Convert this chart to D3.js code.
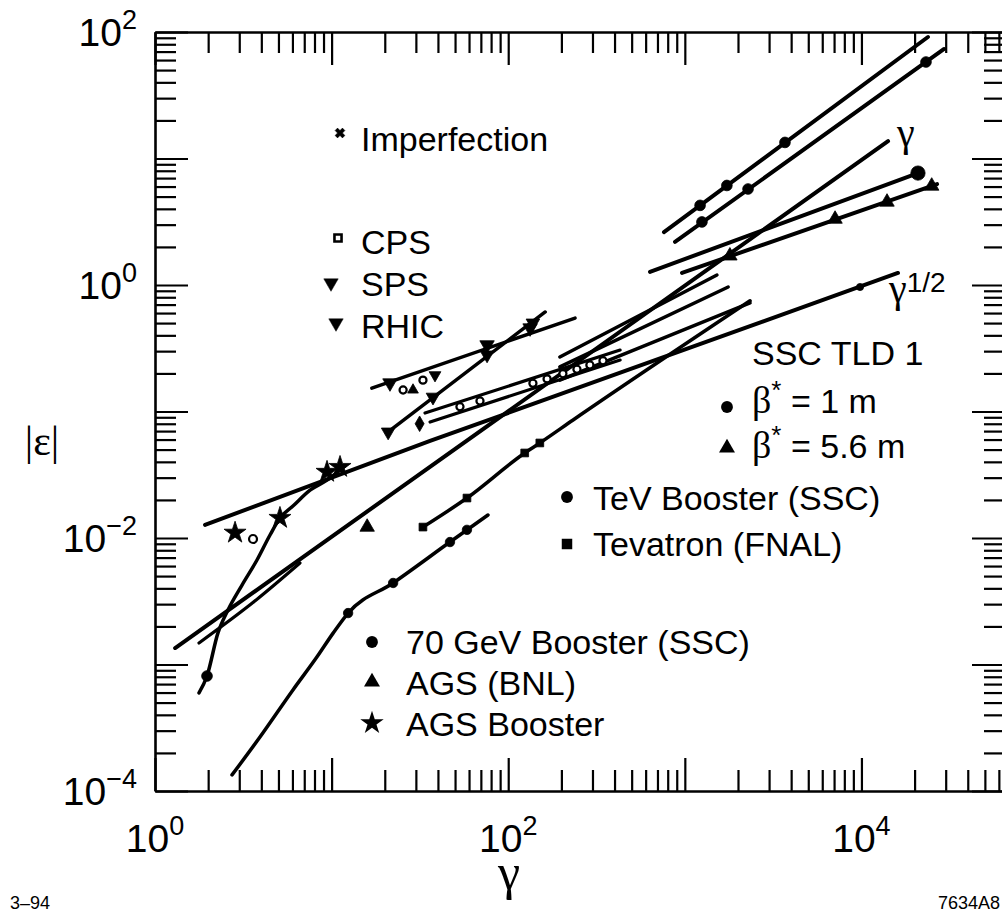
<!DOCTYPE html>
<html>
<head>
<meta charset="utf-8">
<script src="https://cdn.jsdelivr.net/npm/d3@7"></script>
<style>
  body { margin: 0; background: #fff; }
  svg { display: block; }
  text { font-family: "Liberation Sans", Arial, sans-serif; fill: #000; }
  .serif { font-family: "Liberation Serif", "Times New Roman", serif; }
</style>
</head>
<body>
<svg id="chart" width="1002" height="912"></svg>
<script>
// ---- data: [gamma, |epsilon|] ----
const xLabelValues = [1, 100, 10000];
const yLabelValues = [1e-4, 1e-2, 1, 100];

// reference scaling lines
const imperfLine = [[1.30, 0.00135], [14150, 13.7]];            // ~ gamma
const halfLine   = [[1.92, 0.0127], [36.1, 0.0585], [16100, 1.245]]; // ~ gamma^1/2
const halfMarks  = [[9820, 0.964]];

// SSC TLD 1 / TeV booster groups (upper right)
const sscLineA  = [[762, 2.62], [23800, 91.3]];
const sscMarksA = [[1220, 4.26], [1730, 6.12], [3690, 13.4]];
const sscLineB  = [[880, 2.19], [29400, 73.4]];
const sscMarksB = [[1250, 3.15], [2280, 5.74], [23200, 57.9]];
const tevLineA  = [[635, 1.27], [20900, 7.67]];
const tevEndA   = [[20900, 7.67]];
const tevLineB  = [[964, 1.245], [26800, 6.28]];
const tevMarksB = [[1800, 1.70], [7090, 3.32], [13960, 4.53], [25000, 6.06]];

// cluster in the middle
const forkLine1 = [[196, 0.270], [1520, 1.20]];
const forkLine2 = [[196, 0.225], [1760, 0.964]];
const forkLine3 = [[196, 0.177], [2340, 0.721]];
const cpsBandUp = [[33.8, 0.0973], [430, 0.306]];
const cpsBandLo = [[36.1, 0.0826], [430, 0.255]];
const cpsBandEnd = [[31.5, 0.0800]];
const cpsOpen   = [[53.3, 0.109], [69.2, 0.121], [138, 0.167], [166, 0.181], [204, 0.199], [245, 0.216], [290, 0.233], [344, 0.252]];

// SPS and RHIC
const spsLine   = [[16.9, 0.153], [239, 0.548]];
const spsMarks  = [[21.4, 0.168], [75.9, 0.336], [133, 0.457]];
const rhicLine  = [[20.9, 0.0689], [162, 0.612]];
const rhicMarks = [[20.9, 0.0689], [37.5, 0.130], [75.9, 0.280], [138, 0.501]];
const loneOpen  = [[25.4, 0.148], [32.9, 0.177]];
const loneTri   = [[28.9, 0.148]];
const loneTriDn = [[38.5, 0.194]];

// Tevatron
const tevatronLine  = [[32.9, 0.0122], [58.4, 0.0207], [124, 0.0470], [151, 0.0564], [233, 0.0857], [2340, 0.75]];
const tevatronMarks = [[32.9, 0.0122], [58.4, 0.0207], [124, 0.0470], [151, 0.0564]];

// 70 GeV Booster
const boost70Line  = [[2.73, 0.000134], [3.93, 0.000267], [6.04, 0.000629], [8.27, 0.00115], [10.2, 0.00177], [12.4, 0.00255], [22.3, 0.00441], [46.8, 0.00929], [76.8, 0.0152]];
const boost70Marks = [[12.4, 0.00255], [22.3, 0.00441], [46.8, 0.00929], [58.4, 0.0116]];

// AGS
const agsLine  = [[1.775, 0.00148], [3.6, 0.0031], [6.62, 0.00634]];
const agsMarks = [[15.9, 0.0122]];

// AGS Booster
const agsBoosterLine  = [[1.775, 0.000596], [1.97, 0.000811], [2.27, 0.00177], [2.59, 0.00270], [3.11, 0.00425], [3.78, 0.0067], [4.48, 0.01056], [5.10, 0.0144], [6.04, 0.0179], [7.55, 0.0239], [9.42, 0.0287], [11.9, 0.0372]];
const agsBoosterStars = [[5.10, 0.0144], [9.42, 0.0333], [11.16, 0.0364], [2.84, 0.0110]];
const agsBoosterDot   = [[1.97, 0.000811]];
const cpsLone = [[3.59, 0.00982]];

// ---- chart ----
const svg = d3.select("#chart");
const x = d3.scaleLog().domain([1, 65000]).range([155, 1005]);
const y = d3.scaleLog().domain([1e-4, 100]).range([791, 32]);

const isMajor = v => Math.abs(Math.log10(v) - Math.round(Math.log10(v))) < 1e-6;

function styleTicks(g, majorAttr, majorLen) {
  g.select(".domain").attr("stroke-width", 2.6);
  g.selectAll(".tick line").attr("stroke-width", 2.2)
    .filter(d => isMajor(d)).attr(majorAttr, majorLen);
}

svg.append("g").attr("transform", "translate(0,791)")
  .call(d3.axisBottom(x).tickValues(x.ticks()).tickSizeInner(-21).tickSizeOuter(0).tickFormat(""))
  .call(g => styleTicks(g, "y2", -33));
svg.append("g").attr("transform", "translate(0,32)")
  .call(d3.axisTop(x).tickValues(x.ticks()).tickSizeInner(-21).tickSizeOuter(0).tickFormat(""))
  .call(g => styleTicks(g, "y2", 33));
svg.append("g").attr("transform", "translate(155,0)")
  .call(d3.axisLeft(y).tickValues(y.ticks()).tickSizeInner(-21).tickSizeOuter(0).tickFormat(""))
  .call(g => styleTicks(g, "x2", 33));
svg.append("g").attr("transform", "translate(1005,0)")
  .call(d3.axisRight(y).tickValues(y.ticks()).tickSizeInner(-21).tickSizeOuter(0).tickFormat(""))
  .call(g => styleTicks(g, "x2", -33));

function powLabel(px, py, exp, anchor) {
  const t = svg.append("text").attr("x", px).attr("y", py)
    .attr("text-anchor", anchor).style("font-size", "39px");
  t.append("tspan").text("10");
  t.append("tspan").attr("dy", -17).style("font-size", "27px").text(exp);
}
xLabelValues.forEach(v => powLabel(x(v), 852, String(Math.round(Math.log10(v))), "middle"));
yLabelValues.forEach(v => powLabel(137, y(v) + 14, String(Math.round(Math.log10(v))).replace("-", "\u2212"), "end"));

// axis titles and figure ids
svg.append("text").attr("class", "serif").attr("x", 509).attr("y", 889)
  .attr("text-anchor", "middle").style("font-size", "50px").text("\u03b3");
svg.append("text").attr("class", "serif").attr("x", 42).attr("y", 455)
  .attr("text-anchor", "middle").style("font-size", "42px").text("|\u03b5|");
svg.append("text").attr("x", 10).attr("y", 909).style("font-size", "18px").text("3\u201394");
svg.append("text").attr("x", 1000).attr("y", 909).attr("text-anchor", "end").style("font-size", "18px").text("7634A8");

// ---- data lines ----
const plot = svg.append("g");
const straight = d3.line().x(d => x(d[0])).y(d => y(d[1]));
const smooth = d3.line().x(d => x(d[0])).y(d => y(d[1])).curve(d3.curveMonotoneX);

function drawLine(data, w, gen) {
  plot.append("path").datum(data).attr("d", gen || straight)
    .attr("fill", "none").attr("stroke", "#000")
    .attr("stroke-width", w).attr("stroke-linecap", "round").attr("stroke-linejoin", "round");
}
drawLine(imperfLine, 4);
drawLine(halfLine, 4);
drawLine(sscLineA, 4);
drawLine(sscLineB, 4);
drawLine(tevLineA, 4);
drawLine(tevLineB, 4);
drawLine(forkLine1, 3.5);
drawLine(forkLine2, 3.5);
drawLine(forkLine3, 3.5);
drawLine(cpsBandUp, 3.2);
drawLine(cpsBandLo, 3.2);
drawLine(spsLine, 3.5);
drawLine(rhicLine, 3.5);
drawLine(tevatronLine, 3.5, smooth);
drawLine(boost70Line, 3.5, smooth);
drawLine(agsLine, 3.2, smooth);
drawLine(agsBoosterLine, 3.5, smooth);

const symbolPath = (type, size) => d3.symbol().type(type).size(size)();

function drawMarks(data, type, size, rot, open) {
  plot.selectAll(null).data(data).enter().append("path")
    .attr("d", symbolPath(type, size))
    .attr("transform", d => `translate(${x(d[0])},${y(d[1])}) rotate(${rot || 0})`)
    .attr("fill", open ? "#fff" : "#000")
    .attr("stroke", "#000").attr("stroke-width", open ? 2.2 : 0.8);
}
drawMarks(sscMarksA, d3.symbolCircle, 90);
drawMarks(sscMarksB, d3.symbolCircle, 90);
drawMarks(tevEndA, d3.symbolCircle, 160);
drawMarks(tevMarksB, d3.symbolTriangle, 90);
drawMarks(halfMarks, d3.symbolCircle, 40);
drawMarks(cpsOpen, d3.symbolCircle, 40, 0, true);
drawMarks(cpsBandEnd, d3.symbolDiamond, 70);
drawMarks(spsMarks, d3.symbolTriangle, 90, 180);
drawMarks(rhicMarks, d3.symbolTriangle, 80, 180);
drawMarks(loneOpen, d3.symbolCircle, 40, 0, true);
drawMarks(loneTri, d3.symbolTriangle, 50);
drawMarks(loneTriDn, d3.symbolTriangle, 60, 180);
drawMarks(tevatronMarks, d3.symbolSquare, 60);
drawMarks(boost70Marks, d3.symbolCircle, 70);
drawMarks(agsMarks, d3.symbolTriangle, 90);
drawMarks(agsBoosterStars, d3.symbolStar, 150);
drawMarks(agsBoosterDot, d3.symbolCircle, 90);
drawMarks(cpsLone, d3.symbolCircle, 50, 0, true);

// ---- legend text ----
const legendLeft = [
  { label: "Imperfection", sym: d3.symbolCross, rot: 45, size: 60, sx: 340, sy: 133, ty: 151 },
  { label: "CPS", sym: d3.symbolSquare, rot: 0, size: 50, sx: 338, sy: 238, ty: 254, open: true },
  { label: "SPS", sym: d3.symbolTriangle, rot: 180, size: 90, sx: 331, sy: 283, ty: 296 },
  { label: "RHIC", sym: d3.symbolTriangle, rot: 180, size: 90, sx: 336, sy: 323, ty: 338 }
];
legendLeft.forEach(e => {
  svg.append("path").attr("d", symbolPath(e.sym, e.size))
    .attr("transform", `translate(${e.sx},${e.sy}) rotate(${e.rot})`)
    .attr("fill", e.open ? "#fff" : "#000").attr("stroke", "#000").attr("stroke-width", e.open ? 2.6 : 0.5);
  svg.append("text").attr("x", 361).attr("y", e.ty).style("font-size", "34px").text(e.label);
});

svg.append("text").attr("x", 752).attr("y", 365).style("font-size", "34px").text("SSC TLD 1");
const betaRows = [
  { value: "1 m", sym: d3.symbolCircle, sy: 407, ty: 413 },
  { value: "5.6 m", sym: d3.symbolTriangle, sy: 448, ty: 458 }
];
betaRows.forEach(r => {
  svg.append("path").attr("d", symbolPath(r.sym, 110)).attr("transform", `translate(727,${r.sy})`);
  const t = svg.append("text").attr("x", 752).attr("y", r.ty).style("font-size", "34px");
  t.append("tspan").attr("class", "serif").style("font-size", "38px").text("\u03b2");
  t.append("tspan").attr("dy", -14).style("font-size", "26px").text("*");
  t.append("tspan").attr("dy", 14).text(" = " + r.value);
});

const legendMid = [
  { label: "TeV Booster (SSC)", sym: d3.symbolCircle, sy: 497, ty: 510 },
  { label: "Tevatron (FNAL)", sym: d3.symbolSquare, sy: 544, ty: 556 }
];
legendMid.forEach(e => {
  svg.append("path").attr("d", symbolPath(e.sym, 110)).attr("transform", `translate(567,${e.sy})`);
  svg.append("text").attr("x", 593).attr("y", e.ty).style("font-size", "34px").text(e.label);
});

const legendLow = [
  { label: "70 GeV Booster (SSC)", sym: d3.symbolCircle, sy: 642, ty: 654 },
  { label: "AGS (BNL)", sym: d3.symbolTriangle, sy: 682, ty: 695 },
  { label: "AGS Booster", sym: d3.symbolStar, sy: 723, ty: 736 }
];
legendLow.forEach(e => {
  svg.append("path").attr("d", symbolPath(e.sym, e.sym === d3.symbolStar ? 170 : 110)).attr("transform", `translate(372,${e.sy})`);
  svg.append("text").attr("x", 406).attr("y", e.ty).style("font-size", "34px").text(e.label);
});

// slope annotations
svg.append("text").attr("class", "serif").attr("x", 897).attr("y", 146).style("font-size", "40px").text("\u03b3");
const half = svg.append("text").attr("x", 889).attr("y", 302).style("font-size", "40px");
half.append("tspan").attr("class", "serif").text("\u03b3");
half.append("tspan").attr("dy", -10).style("font-size", "28px").text("1/2");
</script>
</body>
</html>
